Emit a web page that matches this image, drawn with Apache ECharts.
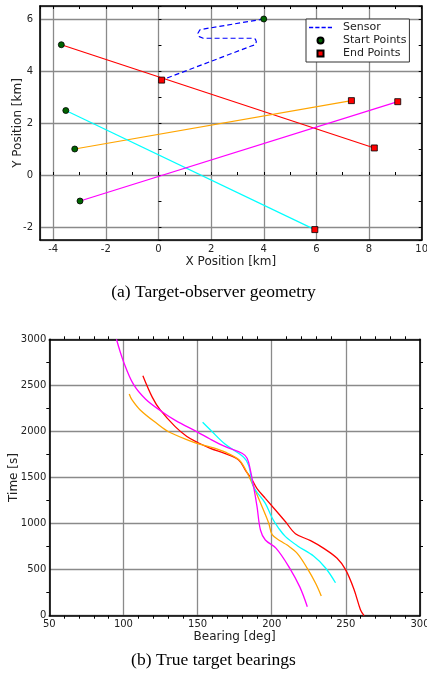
<!DOCTYPE html>
<html>
<head>
<meta charset="utf-8">
<script src="https://cdn.jsdelivr.net/npm/echarts@6/dist/echarts.min.js"></script>
<style>
html,body{margin:0;padding:0;background:#fff;}
#chart{width:427px;height:677px;}
</style>
</head>
<body>
<div id="chart"></div>
<script>
// ---------- (a) geometry data ----------
const sensorX = [4.0, 1.75, 1.57, 1.5, 1.55, 1.7, 3.55, 3.68, 3.72, 3.65, 3.5, 0.12];
const sensorY = [6.0, 5.62, 5.58, 5.45, 5.32, 5.26, 5.26, 5.23, 5.12, 5.0, 4.95, 3.65];
// target order: red, orange, cyan, magenta
const targetStartX = [-3.69, -3.18, -3.52, -2.98];
const targetStartY = [5.01, 1.0, 2.48, -1.0];
const targetEndX = [8.2, 7.33, 5.94, 9.09];
const targetEndY = [1.04, 2.86, -2.1, 2.82];
const legendNames = ['Sensor', 'Start Points', 'End Points'];

// ---------- (b) bearing data ----------
const redBearing = [113.1, 119.5, 124.8, 134.9, 142.8, 150, 158.6, 168.7, 177.7, 182.2, 186.8, 190.1, 195.7, 209.3, 216, 226.2, 235.1, 244.1, 249.8, 255.4, 259.9, 262.3];
const redTime = [2605, 2370, 2233, 2052, 1945, 1880, 1817, 1760, 1690, 1581, 1473, 1380, 1274, 1020, 890, 815, 731, 623, 500, 290, 62, 0];
const orangeBearing = [103.9, 105.7, 111.3, 122.6, 130.4, 146.2, 150, 160, 168.7, 177.7, 182.2, 187.8, 193.5, 198, 200.3, 205.9, 210.4, 217.2, 224, 229.6, 233.4];
const orangeTime = [2406, 2345, 2233, 2085, 1997, 1889, 1868, 1825, 1775, 1695, 1590, 1400, 1183, 1003, 880, 810, 767, 677, 514, 352, 215];
const cyanBearing = [153.4, 158.7, 168.7, 181.1, 184.5, 187.8, 195.7, 200.3, 204.7, 209.3, 217.2, 228.4, 236.3, 243];
const cyanTime = [2100, 2016, 1860, 1720, 1630, 1400, 1220, 1060, 949, 858, 760, 645, 518, 358];
const magentaBearing = [95.3, 100, 106.8, 115, 126, 135, 150, 158.7, 168.7, 180, 183.4, 185.6, 187.8, 190.1, 192.4, 195.7, 203, 212, 219, 224];
const magentaTime = [3000, 2760, 2510, 2350, 2214, 2120, 1993, 1915, 1835, 1763, 1708, 1581, 1400, 1183, 930, 822, 731, 520, 310, 98];

const zip = (a, b) => a.map((v, i) => [v, b[i]]);
const colors = ['#ff0000', '#ffa500', '#00ffff', '#ff00ff'];
const FONT = 'DejaVu Sans';
const SQUARE = 'path://M0,0L10,0L10,10L0,10Z';
const DASH_ICON = 'path://M0,0H5V1.8H0Z M7.5,0H12.5V1.8H7.5Z M15,0H20V1.8H15Z M22.5,0H27.5V1.8H22.5Z';

const labelStyle = {fontFamily: FONT, fontSize: 10, color: '#222'};
const nameStyle = {fontFamily: FONT, fontSize: 12, color: '#222'};
const gridLine = {show: true, lineStyle: {color: '#8a8a8a', width: 1.3}};
const blackLine = {show: true, onZero: false, lineStyle: {color: '#000', width: 1.6}};
const plainFmt = v => String(v);

function tickAxis(pos, gridIndex, min, max, step, showLine) {
  return {
    type: 'value', gridIndex: gridIndex, position: pos, min: min, max: max,
    minInterval: step, maxInterval: step, splitNumber: 20,
    axisLine: showLine ? blackLine : {show: false},
    axisTick: {show: true, inside: true, length: 3, lineStyle: {color: '#000', width: 1}},
    axisLabel: {show: false}, splitLine: {show: false}
  };
}

const chart = echarts.init(document.getElementById('chart'), null, {renderer: 'canvas'});

const series = [];
series.push({
  name: 'Sensor', type: 'line', xAxisIndex: 0, yAxisIndex: 0,
  data: zip(sensorX, sensorY), symbol: 'circle', showSymbol: false,
  lineStyle: {color: '#0000ff', width: 1.2, type: [5, 3]}, itemStyle: {color: '#0000ff'},
  z: 3, animation: false
});
for (let i = 0; i < 4; i++) {
  series.push({
    name: 'target' + i, type: 'line', xAxisIndex: 0, yAxisIndex: 0,
    data: [[targetStartX[i], targetStartY[i]], [targetEndX[i], targetEndY[i]]],
    symbol: 'none', lineStyle: {color: colors[i], width: 1.2}, itemStyle: {color: colors[i]},
    z: 2, animation: false
  });
}
series.push({
  name: 'Start Points', type: 'scatter', xAxisIndex: 0, yAxisIndex: 0,
  data: [[sensorX[0], sensorY[0]]].concat(zip(targetStartX, targetStartY)),
  symbol: 'circle', symbolSize: 6,
  itemStyle: {color: '#006400', borderColor: '#000', borderWidth: 0.8, opacity: 1},
  z: 5, animation: false
});
series.push({
  name: 'End Points', type: 'scatter', xAxisIndex: 0, yAxisIndex: 0,
  data: [[sensorX[sensorX.length - 1], sensorY[sensorY.length - 1]]].concat(zip(targetEndX, targetEndY)),
  symbol: SQUARE, symbolSize: 6, symbolKeepAspect: true,
  itemStyle: {color: '#ff0000', borderColor: '#000', borderWidth: 0.8, opacity: 1},
  z: 5, animation: false
});
const bearingSets = [[redBearing, redTime], [orangeBearing, orangeTime], [cyanBearing, cyanTime], [magentaBearing, magentaTime]];
bearingSets.forEach((s, i) => {
  series.push({
    name: 'bearing' + i, type: 'line', xAxisIndex: 3, yAxisIndex: 3,
    data: zip(s[0], s[1]), symbol: 'none', smooth: 0.35,
    lineStyle: {color: colors[i], width: 1.3}, itemStyle: {color: colors[i]},
    clip: true, z: 3, animation: false
  });
});

const option = {
  backgroundColor: '#fff',
  animation: false,
  title: [
    {text: '(a) Target-observer geometry', left: 'center', top: 283, padding: 0,
     textStyle: {fontFamily: 'Liberation Serif', fontSize: 17.5, fontWeight: 'normal', color: '#000'}},
    {text: '(b) True target bearings', left: 'center', top: 651, padding: 0,
     textStyle: {fontFamily: 'Liberation Serif', fontSize: 17.5, fontWeight: 'normal', color: '#000'}}
  ],
  legend: {
    data: [
      {name: legendNames[0], icon: DASH_ICON, itemStyle: {color: '#0000ff', borderColor: '#0000ff', borderWidth: 0}},
      {name: legendNames[1]},
      {name: legendNames[2]}
    ],
    orient: 'vertical', left: 306, top: 19,
    padding: [2, 3, 2, 3], itemGap: 0, itemWidth: 23, itemHeight: 6,
    backgroundColor: '#fff', borderColor: '#333', borderWidth: 1, borderRadius: 0,
    textStyle: {fontFamily: FONT, fontSize: 11, color: '#222', lineHeight: 13, padding: [0, 0, 0, 6]},
    selectedMode: false
  },
  grid: [
    {left: 40, top: 6, width: 381.7, height: 234, outerBoundsMode: 'none', containLabel: false},
    {left: 49.3, top: 339.3, width: 370.7, height: 276.4, outerBoundsMode: 'none', containLabel: false}
  ],
  xAxis: [
    {type: 'value', gridIndex: 0, position: 'bottom', min: -4.5, max: 10,
     minInterval: 2, maxInterval: 2, splitNumber: 7,
     name: 'X Position [km]', nameLocation: 'middle', nameGap: 16, nameTextStyle: nameStyle, nameMoveOverlap: false,
     axisLine: blackLine, axisTick: {show: false},
     axisLabel: Object.assign({margin: 4, showMinLabel: false, showMaxLabel: true, formatter: plainFmt}, labelStyle),
     splitLine: gridLine},
    tickAxis('bottom', 0, -4.5, 10, 1, false),
    tickAxis('top', 0, -4.5, 10, 1, true),
    {type: 'value', gridIndex: 1, position: 'bottom', min: 50, max: 300, interval: 50,
     name: 'Bearing [deg]', nameLocation: 'middle', nameGap: 15, nameTextStyle: nameStyle, nameMoveOverlap: false,
     axisLine: blackLine, axisTick: {show: false},
     minorTick: {show: true, splitNumber: 5, length: 3, lineStyle: {color: '#000', width: 1}},
     axisLabel: Object.assign({margin: 4, showMinLabel: true, showMaxLabel: true, formatter: plainFmt}, labelStyle),
     splitLine: gridLine},
    {type: 'value', gridIndex: 1, position: 'top', min: 50, max: 300, interval: 50,
     axisLine: blackLine, axisTick: {show: false},
     minorTick: {show: true, splitNumber: 5, length: 3, lineStyle: {color: '#000', width: 1}},
     axisLabel: {show: false}, splitLine: {show: false}}
  ],
  yAxis: [
    {type: 'value', gridIndex: 0, position: 'left', min: -2.5, max: 6.5,
     minInterval: 2, maxInterval: 2, splitNumber: 5,
     name: 'Y Position [km]', nameLocation: 'middle', nameGap: 16, nameTextStyle: nameStyle, nameMoveOverlap: false,
     axisLine: blackLine, axisTick: {show: false},
     axisLabel: Object.assign({margin: 7, showMinLabel: false, showMaxLabel: false, formatter: plainFmt}, labelStyle),
     splitLine: gridLine},
    tickAxis('left', 0, -2.5, 6.5, 1, false),
    tickAxis('right', 0, -2.5, 6.5, 1, true),
    {type: 'value', gridIndex: 1, position: 'left', min: 0, max: 3000, interval: 500,
     name: 'Time [s]', nameLocation: 'middle', nameGap: 29, nameTextStyle: nameStyle, nameMoveOverlap: false,
     axisLine: blackLine, axisTick: {show: false},
     minorTick: {show: true, splitNumber: 2, length: 3, lineStyle: {color: '#000', width: 1}},
     axisLabel: Object.assign({margin: 3, formatter: plainFmt}, labelStyle),
     splitLine: gridLine},
    {type: 'value', gridIndex: 1, position: 'right', min: 0, max: 3000, interval: 500,
     axisLine: blackLine, axisTick: {show: false},
     minorTick: {show: true, splitNumber: 2, length: 3, lineStyle: {color: '#000', width: 1}},
     axisLabel: {show: false}, splitLine: {show: false}}
  ],
  series: series
};
chart.setOption(option);
</script>
</body>
</html>
